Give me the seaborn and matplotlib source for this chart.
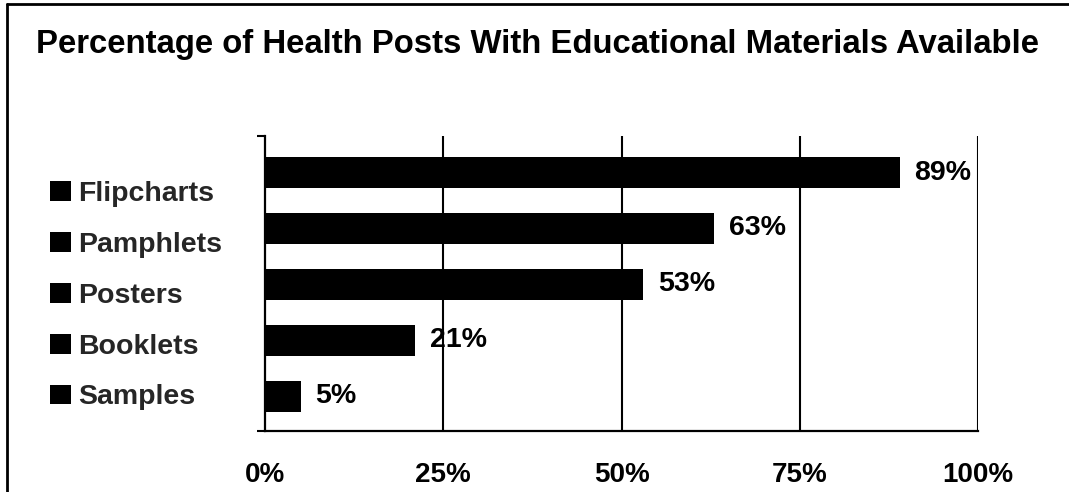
import matplotlib
matplotlib.use('Agg')
import matplotlib.pyplot as plt
import matplotlib.patches as mpatches
import seaborn as sns
import pandas as pd

# Datos
materials = ['Flipcharts', 'Pamphlets', 'Posters', 'Booklets', 'Samples']
percent = [89, 63, 53, 21, 5]
x_ticks = [0, 25, 50, 75, 100]
x_tick_labels = ['0%', '25%', '50%', '75%', '100%']
title = 'Percentage of Health Posts With Educational Materials Available'

sns.set_theme(style='white')
plt.rcParams['font.family'] = ['Liberation Sans', 'DejaVu Sans']
plt.rcParams['font.weight'] = 'bold'

df = pd.DataFrame({'material': materials, 'percent': percent})

fig = plt.figure(figsize=(10.69, 4.92), dpi=100)
ax = fig.add_axes([0.2479, 0.124, 0.9149 - 0.2479, 0.7236 - 0.124])

sns.barplot(data=df, x='percent', y='material', orient='h', color='black',
            width=0.55, saturation=1, edgecolor='none', ax=ax)

ax.set_xlim(0, 100)
ax.set_ylim(4.616, -0.652)

# Líneas verticales de la cuadrícula
for xv in x_ticks[1:]:
    ax.axvline(xv, color='black', linewidth=1.5, zorder=0)

ax.set_xticks(x_ticks)
ax.set_xticklabels(x_tick_labels, fontsize=20, fontweight='bold')
ax.tick_params(axis='x', length=0, pad=22, colors='black')

ax.set_yticks([4.616, -0.652])
ax.set_yticklabels([])
ax.tick_params(axis='y', length=6, width=1.5, direction='out', color='black', left=True)
ax.set_xlabel('')
ax.set_ylabel('')

for side in ['top', 'right']:
    ax.spines[side].set_visible(False)
for side in ['left', 'bottom']:
    ax.spines[side].set_color('black')
    ax.spines[side].set_linewidth(1.6)

# Etiquetas de valor
ax.bar_label(ax.containers[0], labels=[f'{v}%' for v in percent], padding=10.8,
             fontsize=20.5, fontweight='bold', color='black')

# Leyenda con cuadrados negros
handles = [mpatches.Patch(facecolor='black', edgecolor='none', label=m) for m in materials]
fig.legend(handles=handles, loc='upper left', bbox_to_anchor=(39 / 1069, 1 - 170 / 492),
           frameon=False, prop={'weight': 'bold', 'size': 20.5},
           handlelength=0.74, handleheight=0.7, handletextpad=0.25,
           labelspacing=0.87, borderaxespad=0)

fig.text(0.503, 1 - 44 / 492, title, ha='center', va='center',
         fontsize=23.7, fontweight='bold', color='black')

# Marco del gráfico (solo arriba e izquierda)
fig.add_artist(plt.Line2D([6.5 / 1069, 1.0], [1 - 4 / 492, 1 - 4 / 492],
                          transform=fig.transFigure, color='black', linewidth=2))
fig.add_artist(plt.Line2D([6.5 / 1069, 6.5 / 1069], [0, 1 - 4 / 492],
                          transform=fig.transFigure, color='black', linewidth=2))

fig.savefig('out.png', dpi=100)
